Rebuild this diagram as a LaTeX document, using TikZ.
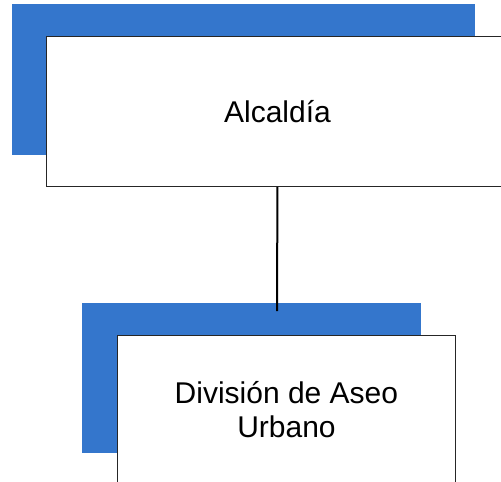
\documentclass[tikz,border=0pt]{standalone}
\usepackage{fontspec}
\setmainfont{Liberation Sans}
\definecolor{shadowblue}{RGB}{52,118,204}
\begin{document}
\begin{tikzpicture}[x=1pt,y=-1pt,
  shadowfill/.style={fill=shadowblue, draw=none},
  orgbox/.style={draw=black!85, line width=0.9pt, fill=white, inner sep=0pt, anchor=north west,
    font=\fontsize{30}{34}\selectfont, align=center},
  link/.style={draw=black, line width=2pt}]
\useasboundingbox (0,0) rectangle (501,482);
\clip (0,0) rectangle (501,482);
\fill[white] (0,0) rectangle (501,482);
% shadows
\fill[shadowfill] (12,4) rectangle (475,155);
\fill[shadowfill] (82,303) rectangle (421,453);
% boxes
\node[orgbox, minimum width=462pt, minimum height=150pt] (alc) at (46,36) {Alcaldía};
\coordinate (linkend) at (277,311);
\draw[link] (alc.south) -- (linkend);
\node[orgbox, minimum width=338pt, minimum height=149pt] (aseo) at (117,335) {División de Aseo\\Urbano};
\end{tikzpicture}
\end{document}
